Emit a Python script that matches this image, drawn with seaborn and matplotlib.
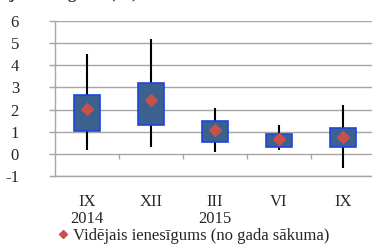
import numpy as np
import pandas as pd
import seaborn as sns
import matplotlib.pyplot as plt
from matplotlib.lines import Line2D

# values (per period)
periods = ["IX 2014", "XII 2014", "III 2015", "VI 2015", "IX 2015"]
tick_labels = ["IX\n2014", "XII", "III\n2015", "VI", "IX"]
whisk_low = [0.18, 0.30, 0.10, 0.18, -0.62]
box_low = [1.02, 1.30, 0.54, 0.33, 0.33]
box_high = [2.66, 3.20, 1.50, 0.91, 1.15]
whisk_high = [4.52, 5.20, 2.08, 1.30, 2.21]
means = [2.03, 2.43, 1.06, 0.68, 0.76]
legend_label = "Vidējais ienesīgums (no gada sākuma)"

sns.set_style("white")
plt.rcParams['font.family'] = ['Liberation Serif', 'DejaVu Serif']
plt.rcParams['axes.unicode_minus'] = False

fig = plt.figure(figsize=(3.72, 2.47), dpi=100)
ax = fig.add_axes([0.148, 0.2874, 0.860, 0.6275])

# box data: low whisker, quartiles, high whisker
rows = []
for p, a, b, c, d in zip(periods, whisk_low, box_low, box_high, whisk_high):
    for v in (a, b, b, c, d):
        rows.append({"period": p, "value": v})
df = pd.DataFrame(rows)

sns.boxplot(data=df, x="period", y="value", order=periods, whis=(0, 100),
            width=0.4, showcaps=False, showfliers=False, ax=ax,
            boxprops={"facecolor": "#3B6190", "edgecolor": "#1F44E0", "linewidth": 1.2, "zorder": 3},
            whiskerprops={"color": "black", "linewidth": 1.5, "zorder": 2},
            medianprops={"visible": False})

sns.stripplot(x=periods, y=means, order=periods, jitter=False, marker="D",
              color="#C8504D", size=7, linewidth=0, ax=ax, zorder=4)

grid_c = "#A6A6A6"
ax.set_ylim(-1, 6)
ax.set_xlim(-0.5, 4.5)
ax.set_yticks(range(-1, 7))
ax.yaxis.grid(True, color=grid_c, linewidth=1)
ax.set_axisbelow(True)
ax.set_xticks(range(len(periods)))
ax.set_xticklabels(tick_labels, fontsize=12, linespacing=1.1)
ax.tick_params(axis="x", length=0, pad=13)
ax.tick_params(axis="y", length=4, color=grid_c, width=1, pad=22, labelsize=12, left=True)
ax.set_xlabel("")
ax.set_ylabel("")

# category tick marks on the zero line
ax.vlines([0.5, 1.5, 2.5, 3.5], -0.22, 0, color=grid_c, linewidth=1)

for s in ["top", "right"]:
    ax.spines[s].set_visible(False)
for s in ["left", "bottom"]:
    ax.spines[s].set_color(grid_c)
    ax.spines[s].set_linewidth(1)

handle = Line2D([], [], marker="D", color="#C8504D", linestyle="none", markersize=4.5)
fig.legend([handle], [legend_label], loc="center", bbox_to_anchor=(0.52, 0.045),
           frameon=False, fontsize=12, handlelength=0.6, handletextpad=0.3,
           borderpad=0, borderaxespad=0)

# title cut off at the top edge (only its lower part shows)
fig.text(0.37, 1 + 2 / 247, "Valdības obligāciju ienesīgums (%)", ha="right",
         va="baseline", fontsize=12, fontweight="bold")

fig.savefig("out.png", dpi=100)
